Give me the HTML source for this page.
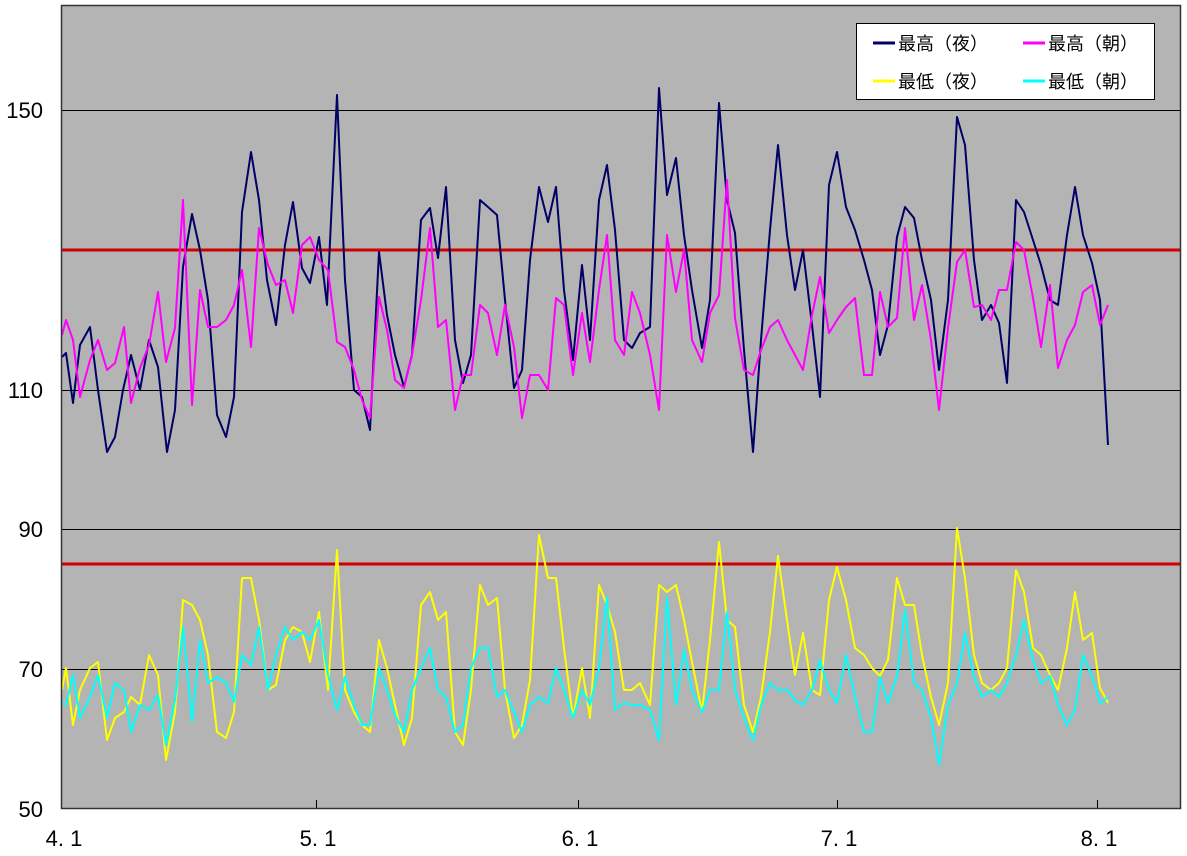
<!DOCTYPE html>
<html><head><meta charset="utf-8"><style>
html,body{margin:0;padding:0;background:#fff;}
svg{display:block;font-family:"Liberation Sans","Noto Sans CJK JP",sans-serif;}
</style></head><body>
<svg width="1187" height="856" viewBox="0 0 1187 856" xmlns="http://www.w3.org/2000/svg">
<rect x="61" y="5" width="1120" height="804" fill="#b4b4b4"/>
<g stroke="#000" stroke-width="1">
<line x1="61" y1="110.5" x2="1181" y2="110.5"/>
<line x1="61" y1="390.5" x2="1181" y2="390.5"/>
<line x1="61" y1="529.5" x2="1181" y2="529.5"/>
<line x1="61" y1="669.5" x2="1181" y2="669.5"/>
<line x1="316.5" y1="800" x2="316.5" y2="809"/>
<line x1="578.5" y1="800" x2="578.5" y2="809"/>
<line x1="837.5" y1="800" x2="837.5" y2="809"/>
<line x1="1097.5" y1="800" x2="1097.5" y2="809"/>
</g>
<line x1="61" y1="250" x2="1181" y2="250" stroke="#d00000" stroke-width="3"/>
<line x1="61" y1="564" x2="1181" y2="564" stroke="#d00000" stroke-width="3"/>
<g fill="none" stroke-width="2" stroke-linejoin="round">
<polyline stroke="#000066" points="62,357 66,353 73,403 80,345 90,327 98,390 107,452 115,437 123,390 131,355 140,390 149,340 158,367 167,452 175,410 183,267 192,214 200,250 208,300 217,415 226,437 234,397 242,212 251,152 259,200 267,280 276,325 285,245 293,202 302,268 310,283 319,237 327,305 337,95 345,280 354,390 362,397 370,430 379,252 387,315 395,355 404,387 412,355 421,220 430,208 438,258 446,187 455,340 463,383 471,355 480,200 488,207 497,215 505,300 514,388 522,370 530,260 539,187 548,222 556,187 564,290 573,360 582,265 590,340 599,200 607,165 615,230 624,340 632,348 640,333 650,327 659,88 667,195 676,158 684,235 692,290 702,348 710,300 719,103 727,200 735,233 744,350 753,452 761,340 770,230 778,145 787,235 795,290 803,250 812,325 820,397 829,185 837,152 846,207 855,230 864,260 872,290 880,355 888,325 897,237 905,207 914,218 922,260 931,300 939,370 948,300 957,117 965,145 974,260 982,320 991,305 999,323 1007,383 1016,200 1024,212 1033,240 1041,265 1050,300 1058,305 1067,235 1075,187 1083,235 1092,263 1100,300 1108,445"/>
<polyline stroke="#ff00ff" points="62,335 66,320 73,340 80,397 90,360 98,340 107,370 115,363 124,327 131,403 140,368 149,345 158,292 166,362 175,328 183,200 192,405 200,290 208,327 217,327 226,320 234,305 242,270 251,347 259,228 268,265 276,285 285,280 293,313 302,245 310,237 319,260 328,270 337,342 345,347 354,370 362,400 370,418 379,297 387,330 395,380 404,388 412,355 421,300 430,228 438,327 446,320 455,410 463,375 471,375 480,305 488,313 497,355 505,305 514,347 522,418 530,375 539,375 548,390 556,298 564,305 573,375 582,313 590,362 599,290 607,235 615,340 624,355 632,292 640,313 650,355 659,410 667,235 676,292 684,250 692,340 702,362 710,313 719,295 727,180 735,318 744,370 753,375 761,350 770,327 778,320 787,340 795,355 803,370 812,315 820,277 829,333 837,320 846,307 855,298 864,375 872,375 880,292 888,327 897,318 905,228 914,320 922,285 931,340 939,410 948,328 957,262 965,250 974,307 982,305 991,320 999,290 1007,290 1016,242 1024,250 1033,298 1041,347 1050,285 1058,368 1067,340 1075,325 1083,292 1092,285 1100,325 1108,305"/>
<polyline stroke="#ffff00" points="62,690 66,668 73,725 80,690 90,668 98,662 107,740 115,718 124,712 131,697 140,705 149,655 158,675 166,760 175,712 183,600 192,605 200,620 208,655 217,732 226,738 234,712 242,578 251,578 259,620 268,690 276,685 285,640 293,627 302,632 310,662 319,612 328,690 337,550 345,690 354,712 362,725 370,732 379,640 387,668 395,705 404,745 412,718 421,605 430,592 438,620 446,612 455,732 463,745 471,690 480,585 488,605 497,598 505,690 514,738 522,725 530,680 539,535 548,578 556,578 564,648 573,718 582,668 590,718 599,585 607,605 615,632 624,690 632,690 640,683 650,705 659,585 667,592 676,585 684,620 692,662 702,712 710,640 719,542 727,620 735,627 744,705 753,732 761,697 770,632 778,556 787,620 795,675 803,633 812,690 820,695 829,600 837,567 846,600 855,648 864,655 872,668 880,676 888,660 897,578 905,605 914,605 922,655 931,697 939,725 948,683 957,528 965,578 974,655 982,683 991,690 999,683 1007,668 1016,570 1024,592 1033,648 1041,655 1050,675 1058,690 1067,648 1075,592 1083,640 1092,633 1100,688 1108,703"/>
<polyline stroke="#00ffff" points="62,703 66,705 73,675 80,718 90,697 98,675 107,718 115,683 124,690 131,732 140,705 149,710 158,695 166,745 175,700 183,627 192,722 200,640 208,683 217,677 226,683 234,702 242,655 251,665 259,627 268,690 276,655 285,627 293,640 302,632 310,640 319,620 328,675 337,710 345,677 354,705 362,725 370,725 379,668 387,690 395,715 404,732 412,690 421,668 430,648 438,690 446,697 455,732 463,725 471,668 480,648 488,648 497,697 505,690 514,712 522,732 530,705 539,697 548,703 556,668 564,690 573,718 582,690 590,705 599,668 607,597 615,710 624,703 632,705 640,705 650,710 659,740 667,597 676,705 684,650 692,690 702,712 710,690 719,690 727,612 735,690 744,718 753,740 761,705 770,683 778,690 787,690 795,700 803,705 812,690 820,660 829,690 837,703 846,655 855,697 864,732 872,732 880,677 888,703 897,676 905,610 914,683 922,690 931,718 939,765 948,705 957,683 965,633 974,677 982,697 991,690 999,697 1007,683 1016,655 1024,620 1033,660 1041,683 1050,676 1058,705 1067,725 1075,710 1083,655 1092,676 1100,703 1108,697"/>
</g>
<rect x="61.5" y="5.5" width="1119" height="803" fill="none" stroke="#333" stroke-width="1.5"/>
<rect x="856.5" y="23.5" width="298" height="76" fill="#fff" stroke="#000" stroke-width="1"/>
<g stroke-width="3">
<line x1="873" y1="43" x2="895" y2="43" stroke="#000066"/>
<line x1="1023" y1="43" x2="1045" y2="43" stroke="#ff00ff"/>
<line x1="873" y1="81" x2="895" y2="81" stroke="#ffff00"/>
<line x1="1023" y1="81" x2="1045" y2="81" stroke="#00ffff"/>
</g>
<g font-size="18" fill="#000">
<text x="898" y="50">最高（夜）</text>
<text x="1048" y="50">最高（朝）</text>
<text x="898" y="88">最低（夜）</text>
<text x="1048" y="88">最低（朝）</text>
</g>
<g font-size="22" fill="#000" text-anchor="end">
<text x="43" y="118">150</text>
<text x="43" y="398">110</text>
<text x="43" y="537">90</text>
<text x="43" y="677">70</text>
<text x="43" y="817">50</text>
</g>
<g font-size="22" fill="#000" text-anchor="middle">
<text x="64" y="846">4. 1</text>
<text x="318" y="846">5. 1</text>
<text x="580" y="846">6. 1</text>
<text x="839" y="846">7. 1</text>
<text x="1099" y="846">8. 1</text>
</g>
</svg>
</body></html>
